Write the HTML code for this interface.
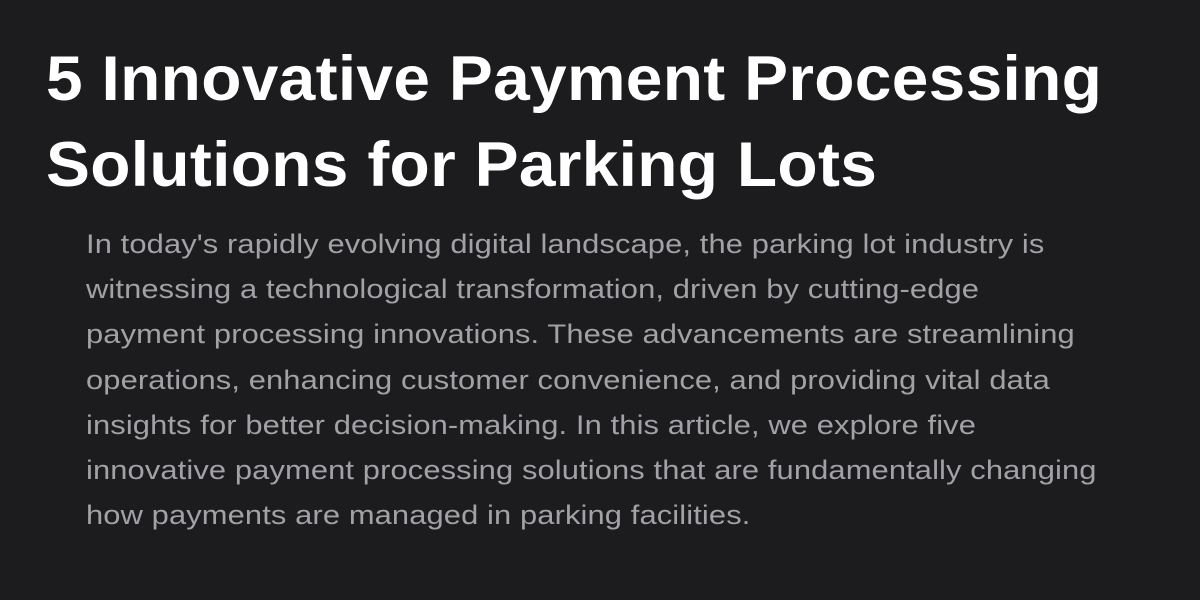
<!DOCTYPE html>
<html>
<head>
<meta charset="utf-8">
<style>
  html, body { margin: 0; padding: 0; }
  body {
    width: 1200px; height: 600px; overflow: hidden;
    background: #1c1c1e;
    font-family: "Liberation Sans", "DejaVu Sans", sans-serif;
  }
  h1 {
    position: absolute; left: 46px; top: 36px; margin: 0;
    color: #ffffff; font-weight: bold; font-size: 63px; line-height: 86px;
    letter-spacing: 0.3px; white-space: nowrap;
    transform: scaleX(1.045); transform-origin: left top;
  }
  p {
    position: absolute; left: 86px; top: 222px; margin: 0;
    color: #a1a1a6; font-size: 26.5px; line-height: 45.2px;
    white-space: nowrap; letter-spacing: 0.1px;
    transform: scaleX(1.165); transform-origin: left top;
  }
</style>
</head>
<body>
  <h1>5 Innovative Payment Processing<br>Solutions for Parking Lots</h1>
  <p>In today's rapidly evolving digital landscape, the parking lot industry is<br>witnessing a technological transformation, driven by cutting-edge<br>payment processing innovations. These advancements are streamlining<br>operations, enhancing customer convenience, and providing vital data<br>insights for better decision-making. In this article, we explore five<br>innovative payment processing solutions that are fundamentally changing<br>how payments are managed in parking facilities.</p>
</body>
</html>
